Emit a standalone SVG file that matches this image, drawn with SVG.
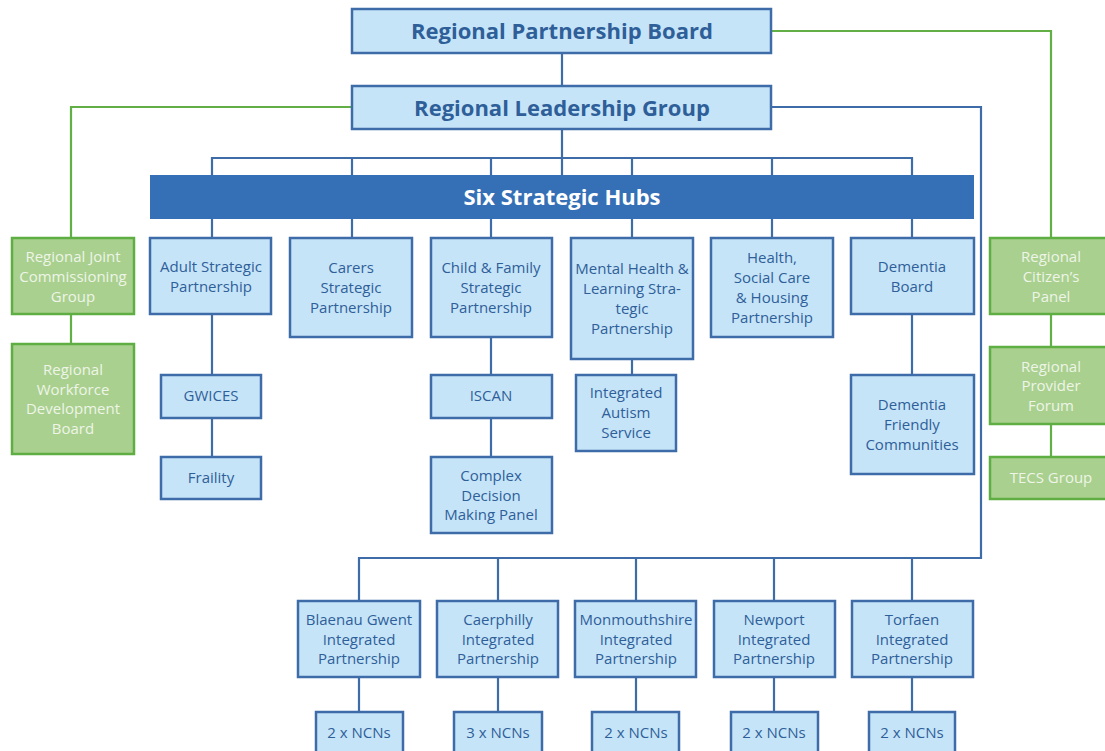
<svg xmlns="http://www.w3.org/2000/svg" width="1105" height="751" viewBox="0 0 1105 751">
<style>
.bx{fill:#c6e4f8;stroke:#3e6ca8;stroke-width:2.5}
.gb{fill:#a9d08e;stroke:#5eae43;stroke-width:2.5}
.hub{fill:#356fb6}
.t{font-family:"Open Sans","DejaVu Sans",sans-serif;font-size:15px;fill:#2f5f98;text-anchor:middle}
.gt{font-family:"Open Sans","DejaVu Sans",sans-serif;font-size:15px;fill:#eef5e8;text-anchor:middle}
.big{font-family:"Open Sans","DejaVu Sans",sans-serif;font-size:22px;font-weight:bold;fill:#2f5f98;text-anchor:middle}
.hubt{font-family:"Open Sans","DejaVu Sans",sans-serif;font-size:22px;font-weight:bold;fill:#ffffff;text-anchor:middle}
.bl{fill:none;stroke:#3e6ca8;stroke-width:2.2}
.gl{fill:none;stroke:#62b045;stroke-width:2.2}
</style>
<rect width="1105" height="751" fill="#ffffff"/>
<g id="connectors">
<path class="bl" d="M562 53V86M562 129V176M212 176V158H912V176M352 158V176M491 158V176M632 158V176M772 158V176"/>
<path class="bl" d="M212 219V238M352 219V238M491 219V238M632 219V238M772 219V238M912 219V238"/>
<path class="bl" d="M212 314V375M212 418V457M491 337V375M491 418V457M632 359V375M912 314V375"/>
<path class="bl" d="M771 107H981V558H359V601M498 558V601M636 558V601M774 558V601M912 558V601"/>
<path class="bl" d="M359 677V712M498 677V712M636 677V712M774 677V712M912 677V712"/>
<path class="gl" d="M771 31H1051V238M1051 314V347M1051 424V457"/>
<path class="gl" d="M352 107H71V238M71 314V344"/>
</g>
<g id="rpb"><rect class="bx" x="352" y="9" width="419" height="44"/><text class="big" x="562" y="39">Regional Partnership Board</text></g>
<g id="rlg"><rect class="bx" x="352" y="86" width="419" height="43"/><text class="big" x="562" y="116">Regional Leadership Group</text></g>
<g id="hubs"><rect class="hub" x="150" y="175" width="824" height="44"/><text class="hubt" x="562" y="205">Six Strategic Hubs</text></g>
<g id="adult"><rect class="bx" x="150" y="238" width="121" height="76"/><text class="t" x="211"><tspan x="211" y="272">Adult Strategic</tspan><tspan x="211" y="292">Partnership</tspan></text></g>
<g id="carers"><rect class="bx" x="290" y="238" width="122" height="99"/><text class="t"><tspan x="351" y="273">Carers</tspan><tspan x="351" y="293">Strategic</tspan><tspan x="351" y="313">Partnership</tspan></text></g>
<g id="child"><rect class="bx" x="431" y="238" width="121" height="99"/><text class="t"><tspan x="491" y="273">Child &amp; Family</tspan><tspan x="491" y="293">Strategic</tspan><tspan x="491" y="313">Partnership</tspan></text></g>
<g id="mental"><rect class="bx" x="571" y="238" width="122" height="121"/><text class="t"><tspan x="632" y="274">Mental Health &amp;</tspan><tspan x="632" y="294">Learning Stra-</tspan><tspan x="632" y="314">tegic</tspan><tspan x="632" y="334">Partnership</tspan></text></g>
<g id="health"><rect class="bx" x="711" y="238" width="122" height="99"/><text class="t"><tspan x="772" y="263">Health,</tspan><tspan x="772" y="283">Social Care</tspan><tspan x="772" y="303">&amp; Housing</tspan><tspan x="772" y="323">Partnership</tspan></text></g>
<g id="dementia"><rect class="bx" x="851" y="238" width="123" height="76"/><text class="t"><tspan x="912" y="272">Dementia</tspan><tspan x="912" y="292">Board</tspan></text></g>
<g id="rjcg"><rect class="gb" x="12" y="238" width="122" height="76"/><text class="gt"><tspan x="73" y="262">Regional Joint</tspan><tspan x="73" y="282">Commissioning</tspan><tspan x="73" y="302">Group</tspan></text></g>
<g id="rwdb"><rect class="gb" x="12" y="344" width="122" height="110"/><text class="gt"><tspan x="73" y="375">Regional</tspan><tspan x="73" y="395">Workforce</tspan><tspan x="73" y="414">Development</tspan><tspan x="73" y="434">Board</tspan></text></g>
<g id="citizen"><rect class="gb" x="990" y="238" width="122" height="76"/><text class="gt"><tspan x="1051" y="262">Regional</tspan><tspan x="1051" y="282">Citizen’s</tspan><tspan x="1051" y="302">Panel</tspan></text></g>
<g id="provider"><rect class="gb" x="990" y="347" width="122" height="77"/><text class="gt"><tspan x="1051" y="372">Regional</tspan><tspan x="1051" y="391">Provider</tspan><tspan x="1051" y="411">Forum</tspan></text></g>
<g id="tecs"><rect class="gb" x="990" y="457" width="122" height="42"/><text class="gt" x="1051" y="483">TECS Group</text></g>
<g id="gwices"><rect class="bx" x="161" y="375" width="100" height="43"/><text class="t" x="211" y="401">GWICES</text></g>
<g id="frailty"><rect class="bx" x="161" y="457" width="100" height="42"/><text class="t" x="211" y="483">Fraility</text></g>
<g id="iscan"><rect class="bx" x="431" y="375" width="121" height="43"/><text class="t" x="491" y="401">ISCAN</text></g>
<g id="complex"><rect class="bx" x="431" y="457" width="121" height="76"/><text class="t"><tspan x="491" y="481">Complex</tspan><tspan x="491" y="501">Decision</tspan><tspan x="491" y="520">Making Panel</tspan></text></g>
<g id="autism"><rect class="bx" x="576" y="375" width="100" height="76"/><text class="t"><tspan x="626" y="398">Integrated</tspan><tspan x="626" y="418">Autism</tspan><tspan x="626" y="438">Service</tspan></text></g>
<g id="dfc"><rect class="bx" x="851" y="375" width="123" height="99"/><text class="t"><tspan x="912" y="410">Dementia</tspan><tspan x="912" y="430">Friendly</tspan><tspan x="912" y="450">Communities</tspan></text></g>
<g id="blaenau"><rect class="bx" x="298" y="601" width="122" height="76"/><text class="t"><tspan x="359" y="625">Blaenau Gwent</tspan><tspan x="359" y="645">Integrated</tspan><tspan x="359" y="664">Partnership</tspan></text></g>
<g id="caerphilly"><rect class="bx" x="437" y="601" width="121" height="76"/><text class="t"><tspan x="498" y="625">Caerphilly</tspan><tspan x="498" y="645">Integrated</tspan><tspan x="498" y="664">Partnership</tspan></text></g>
<g id="monmouthshire"><rect class="bx" x="575" y="601" width="121" height="76"/><text class="t"><tspan x="636" y="625">Monmouthshire</tspan><tspan x="636" y="645">Integrated</tspan><tspan x="636" y="664">Partnership</tspan></text></g>
<g id="newport"><rect class="bx" x="714" y="601" width="121" height="76"/><text class="t"><tspan x="774" y="625">Newport</tspan><tspan x="774" y="645">Integrated</tspan><tspan x="774" y="664">Partnership</tspan></text></g>
<g id="torfaen"><rect class="bx" x="852" y="601" width="121" height="76"/><text class="t"><tspan x="912" y="625">Torfaen</tspan><tspan x="912" y="645">Integrated</tspan><tspan x="912" y="664">Partnership</tspan></text></g>
<g id="ncn1"><rect class="bx" x="316" y="712" width="87" height="50"/><text class="t" x="359" y="738">2 x NCNs</text></g>
<g id="ncn2"><rect class="bx" x="454" y="712" width="88" height="50"/><text class="t" x="498" y="738">3 x NCNs</text></g>
<g id="ncn3"><rect class="bx" x="592" y="712" width="87" height="50"/><text class="t" x="636" y="738">2 x NCNs</text></g>
<g id="ncn4"><rect class="bx" x="731" y="712" width="87" height="50"/><text class="t" x="774" y="738">2 x NCNs</text></g>
<g id="ncn5"><rect class="bx" x="869" y="712" width="86" height="50"/><text class="t" x="912" y="738">2 x NCNs</text></g>
</svg>
